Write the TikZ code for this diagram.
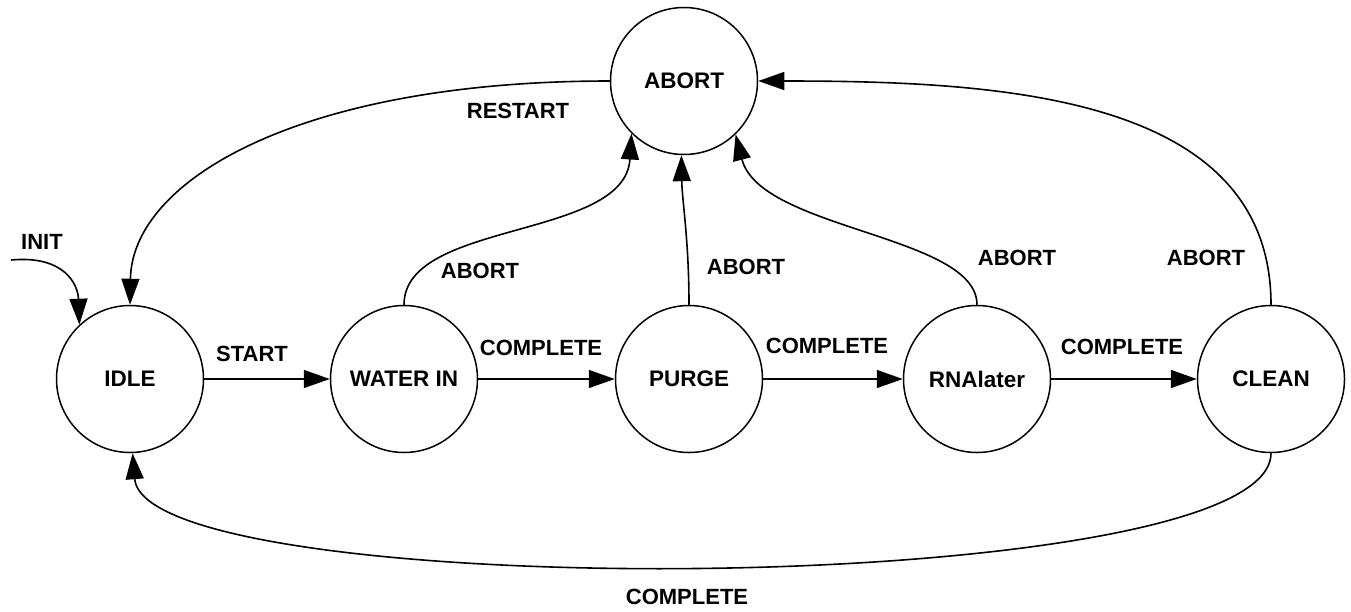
\documentclass[tikz,border=0pt]{standalone}
\usepackage{fontspec}
\setmainfont{Liberation Sans}
\usetikzlibrary{arrows.meta}
\begin{document}
\begin{tikzpicture}[x=1pt,y=-1pt,
  state/.style={circle,draw,line width=1.5pt,minimum size=147pt,inner sep=0pt,font=\bfseries\fontsize{22.5}{26}\selectfont},
  lbl/.style={font=\bfseries\fontsize{22}{26}\selectfont,inner sep=0pt},
  arr/.style={line width=1.6pt,-{Triangle[length=26pt,width=18pt]}}]
\useasboundingbox (0,0) rectangle (1351,611);
\node[state] (idle) at (130,379) {IDLE};
\node[state] (water) at (404,379) {WATER IN};
\node[state] (purge) at (689,379) {PURGE};
\node[state] (rna) at (977,379) {RNAlater};
\node[state] (clean) at (1271,379) {CLEAN};
\node[state] (abort) at (684,81) {ABORT};
\coordinate (init) at (11,260);

\draw[arr] (init) .. controls (65,255) and (78,285) .. (idle.133);
\draw[arr] (idle) -- (water);
\draw[arr] (water) -- (purge);
\draw[arr] (purge) -- (rna);
\draw[arr] (rna) -- (clean);
\draw[arr] (water.north) .. controls (404,220) and (625,240) .. (abort.225);
\draw[arr] (purge.north) .. controls (689,240) and (682,200) .. (abort.-92);
\draw[arr] (rna.north) .. controls (977,235) and (760,230) .. (abort.-46);
\draw[arr] (clean.north) .. controls (1271,95) and (1000,81) .. (abort.east);
\draw[arr] (abort.west) .. controls (300,81) and (132,180) .. (idle.north);
\draw[arr] (clean.south) .. controls (1271,600) and (145,605) .. (idle.-88);

\node[lbl] (tinit) at (42,242) {INIT};
\node[lbl] (trestart) at (518,111) {RESTART};
\node[lbl] (tstart) at (252,354) {START};
\node[lbl] (tc1) at (541,348) {COMPLETE};
\node[lbl] (tc2) at (827,346) {COMPLETE};
\node[lbl] (tc3) at (1122,347) {COMPLETE};
\node[lbl] (ta1) at (480,271) {ABORT};
\node[lbl] (ta2) at (746,267) {ABORT};
\node[lbl] (ta3) at (1017,258) {ABORT};
\node[lbl] (ta4) at (1206,258) {ABORT};
\node[lbl] (tc4) at (687,597) {COMPLETE};
\end{tikzpicture}
\end{document}
